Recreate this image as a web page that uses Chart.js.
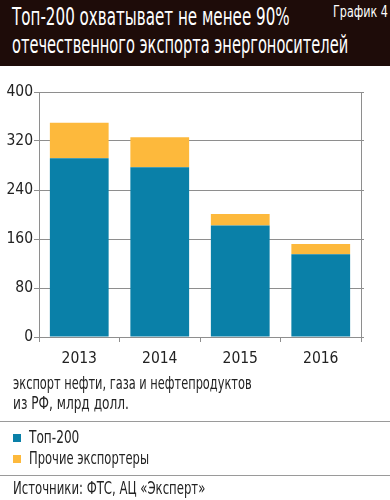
<!DOCTYPE html>
<html><head><meta charset="utf-8">
<script src="https://cdn.jsdelivr.net/npm/chart.js@4/dist/chart.umd.min.js"></script>
<style>
html,body{margin:0;padding:0;background:#fff;width:390px;height:500px;overflow:hidden;}
body{position:relative;font-family:"Liberation Sans Narrow","DejaVu Sans Condensed",sans-serif;color:#222;}
.t{position:absolute;white-space:nowrap;transform-origin:0 50%;}
#hdr{position:absolute;left:0;top:0;width:390px;height:66px;background:#1e0c09;}
.sep{position:absolute;left:0;width:390px;height:0;border-top:1.5px solid #9a9a9a;}
.sq{position:absolute;width:8px;height:8px;}
#wrap{position:absolute;left:0;top:80px;width:390px;height:300px;}
</style></head>
<body>
<div id="hdr"></div>
<div class="t" id="t1" style="left:12px;top:3px;color:#fff;font-size:25px;line-height:28px;">Топ-200 охватывает не менее 90%</div>
<div class="t" id="t2" style="left:12px;top:31px;color:#fff;font-size:25px;line-height:28px;">отечественного экспорта энергоносителей</div>
<div class="t" id="t3" style="left:333px;top:3px;color:#fff;font-size:16px;line-height:18px;">График 4</div>
<div id="wrap"><canvas id="c" width="390" height="300"></canvas></div>
<div class="t" id="cap1" style="left:13px;top:373px;font-size:17px;line-height:20px;">экспорт нефти, газа и нефтепродуктов</div>
<div class="t" id="cap2" style="left:13px;top:393px;font-size:17px;line-height:20px;">из РФ, млрд долл.</div>
<div class="sep" style="top:421px;"></div>
<div id="legend"></div>
<div class="sep" style="top:475px;"></div>
<div class="t" id="src" style="left:13px;top:478px;font-size:17px;line-height:20px;">Источники: ФТС, АЦ «Эксперт»</div>
<script>
const categories = ["2013", "2014", "2015", "2016"];
const top200 = [292, 277, 182, 135];
const others = [58, 49, 19, 17];
const seriesNames = ["Топ-200", "Прочие экспортеры"];
const seriesColors = ["#0a80a8", "#fdb93c"];
const yTicks = [0, 80, 160, 240, 320, 400];

const FONT = '"Liberation Sans Narrow","DejaVu Sans Condensed",sans-serif';
const grid = '#8e8e8e';

// legend (HTML, built from series)
const lg = document.getElementById('legend');
seriesNames.forEach((n, i) => {
  const y = 427 + i * 21;
  const sq = document.createElement('div');
  sq.className = 'sq';
  sq.style.left = '13px'; sq.style.top = (y + 7) + 'px'; sq.style.background = seriesColors[i];
  lg.appendChild(sq);
  const tx = document.createElement('div');
  tx.className = 't';
  tx.style.left = '29px'; tx.style.top = y + 'px'; tx.style.fontSize = '17px'; tx.style.lineHeight = '20px';
  tx.textContent = n;
  lg.appendChild(tx);
});

new Chart(document.getElementById('c'), {
  type: 'bar',
  data: {
    labels: categories,
    datasets: [
      { label: seriesNames[0], data: top200, backgroundColor: seriesColors[0], barPercentage: 0.73, categoryPercentage: 1 },
      { label: seriesNames[1], data: others, backgroundColor: seriesColors[1], barPercentage: 0.73, categoryPercentage: 1 }
    ]
  },
  options: {
    responsive: false,
    animation: false,
    layout: { padding: { top: 12, right: 0, left: 0, bottom: 0 } },
    plugins: { legend: { display: false }, tooltip: { enabled: false } },
    scales: {
      x: {
        stacked: true,
        grid: { display: true, drawOnChartArea: false, drawTicks: true, tickLength: 5, color: grid, offset: true },
        border: { display: true, color: grid, width: 1 },
        ticks: { font: { family: FONT, size: 15.5 }, color: '#222', padding: 8 },
        afterFit: s => { s.height = 43; }
      },
      y: {
        stacked: true, min: 0, max: 400,
        afterBuildTicks: s => { s.ticks = yTicks.map(v => ({ value: v })); },
        grid: { color: grid, tickLength: 5, lineWidth: 1 },
        border: { display: true, color: grid, width: 1 },
        ticks: { font: { family: FONT, size: 15.5 }, color: '#222', padding: 1 },
        afterFit: s => { s.width = 39; }
      },
      y2: {
        position: 'right', min: 0, max: 400,
        afterBuildTicks: s => { s.ticks = yTicks.map(v => ({ value: v })); },
        grid: { drawOnChartArea: false, tickLength: 3, color: grid },
        border: { display: true, color: grid, width: 1 },
        ticks: { callback: () => '', padding: 0 },
        afterFit: s => { s.width = 29; }
      }
    }
  }
});

// fit header/caption widths to reference
function fit(id, w) { const el = document.getElementById(id); const r = el.scrollWidth; el.style.transform = 'scaleX(' + (w / r) + ')'; }
fit('t1', 278); fit('t2', 336); fit('t3', 55);
fit('cap1', 239); fit('cap2', 116); fit('src', 192);
document.querySelectorAll('#legend .t').forEach((el, i) => { const w = [50, 120][i]; el.style.transform = 'scaleX(' + (w / el.scrollWidth) + ')'; });
</script>
</body></html>
